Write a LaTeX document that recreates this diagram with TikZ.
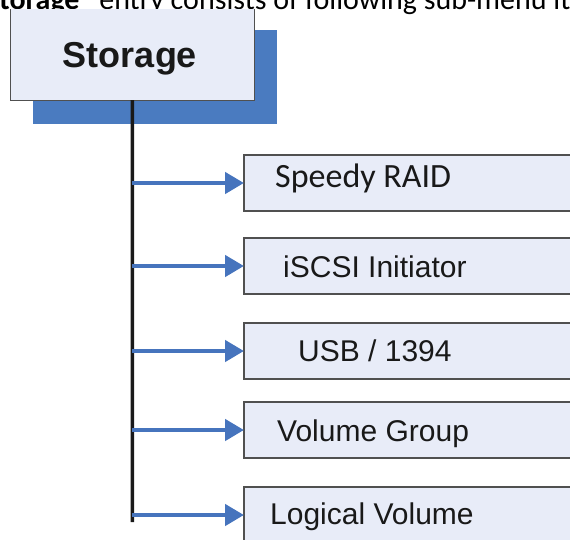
\documentclass[tikz,border=0pt]{standalone}
\usepackage{fontspec}
\setmainfont{Liberation Sans}
\newfontfamily\carlito{Carlito}
\usetikzlibrary{arrows.meta}
\definecolor{boxfill}{HTML}{E8ECF8}
\definecolor{shadowblue}{HTML}{4A7BC0}
\definecolor{arrowblue}{HTML}{4674BD}
\definecolor{edgegray}{HTML}{505050}
\begin{document}
\begin{tikzpicture}[x=1pt,y=-1pt,
  shadowbox/.style={fill=shadowblue, draw=none, inner sep=0pt, outer sep=0pt},
  frontbox/.style={fill=boxfill, draw=none, inner sep=0pt, outer sep=0pt},
  subbox/.style={fill=boxfill, draw=edgegray, line width=1.1pt, inner sep=0pt, outer sep=0pt,
                 minimum width=400pt, minimum height=56pt, anchor=north west},
  lbl/.style={anchor=base west, inner sep=0pt, font=\fontsize{30}{30}\selectfont, text=black!90},
  trunk/.style={line width=3.6pt, draw=black!90},
  feed/.style={draw=arrowblue, line width=4.5pt, -{Triangle[length=19pt,width=21pt]}}]
\useasboundingbox (0,0) rectangle (570,539);
\clip (0,0) rectangle (570,539);
% header line (cut off at the top, as in the reference)
\node[anchor=base west, inner sep=0pt, font=\carlito\fontsize{30}{30}\selectfont] (hdr) at (-28,9)
  {\textbf{“Storage”} entry consists of following sub-menu items};
% Storage box with shadow
\node[shadowbox, anchor=north west, minimum width=244pt, minimum height=94pt] (shd) at (33,30) {};
\node[frontbox, anchor=north west, minimum width=243.3pt, minimum height=91pt] (st) at (10.7,9) {};
\draw[edgegray, line width=1pt] (st.north west) |- (st.south east) -- (st.north east);
\node[anchor=base, inner sep=0pt, font=\bfseries\fontsize{36}{36}\selectfont, text=black!90] (stl) at (130,67) {Storage};
% sub-menu boxes
\node[subbox] (b1) at (244,155) {};
\node[subbox] (b2) at (244,238) {};
\node[subbox] (b3) at (244,323) {};
\node[subbox] (b4) at (244,402) {};
\node[subbox] (b5) at (244,487) {};
\node[lbl, font=\carlito\fontsize{34}{34}\selectfont] (t1) at (275,187) {Speedy RAID};
\node[lbl] (t2) at (283,277) {iSCSI Initiator};
\node[lbl] (t3) at (298,361) {USB / 1394};
\node[lbl] (t4) at (277,441) {Volume Group};
\node[lbl] (t5) at (270,524) {Logical Volume};
% trunk and branches
\coordinate (tbot) at (132.35,522);
\draw[trunk] (st.south) -- (tbot);
\foreach \b in {b1,b2,b3,b4,b5}{
  \coordinate (j\b) at (\b.west -| tbot);
  \draw[feed] (j\b) -- (\b.west);
}
\end{tikzpicture}
\end{document}
